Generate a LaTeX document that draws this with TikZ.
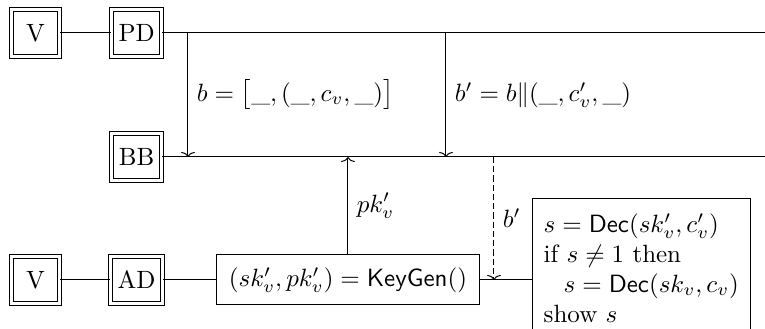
\documentclass[tikz,border=0pt]{standalone}
\usepackage{amsmath}
\usetikzlibrary{arrows.meta}
\begin{document}
\begin{tikzpicture}[>={To[length=2pt, width=5.5pt]}]
		\tikzstyle{party}=[draw, double, double distance=1.2pt, minimum size=19pt, inner sep=2.8pt]
		\tikzstyle{proc}=[draw, inner sep=5pt]
		\tikzstyle{lbl}=[midway, right]
		
		\useasboundingbox (0,0) rectangle (10.755,-4.625);
		
		\node[party] (v1) at (0.50,-0.464) {V};
		\node[party] (pd) at (1.92,-0.464) {PD};
		\node[party] (bb) at (1.92,-2.207) {BB};
		\node[party] (v2) at (0.50,-3.936) {V};
		\node[party] (ad) at (1.92,-3.936) {AD};
		\node[proc] (kg) at (4.892,-3.936) {$(sk'_v, pk'_v) = \mathsf{KeyGen}()$};
		\node[proc, anchor=north west, align=left, inner xsep=4.5pt, inner ysep=6pt] (dec) at (7.479,-2.783)
		{$s = \mathsf{Dec}(sk'_v, c'_v)$\\
		 if $s \neq 1$ then\\
		 \hspace*{0.8em}$s = \mathsf{Dec}(sk_v, c_v)$\\
		 show $s$};
		
		\coordinate (pdend) at (10.755,-0.464);
		\coordinate (bbend) at (10.755,-2.207);
		\coordinate (b1) at (2.643,-0.464);
		\coordinate (b2) at (6.270,-0.464);
		\coordinate (b3) at (6.945,-2.207);
		
		\draw (v1) -- (pd);
		\draw (pd) -- (pdend);
		\draw (bb) -- (bbend);
		\draw (v2) -- (ad);
		\draw (ad) -- (kg);
		\draw (kg.east) -- (kg.east -| dec.west);
		
		\draw[->] (b1) -- (b1 |- bb.east) node[lbl]{$b = \bigl[\_, (\_, c_v, \_)\bigr]$};
		\draw[->] (b2) -- (b2 |- bb.east) node[lbl]{$b' = b \| (\_, c'_v, \_)$};
		\draw[->] (kg.north) -- (kg.north |- bb.east) node[lbl]{$pk'_v$};
		\draw[->, dash pattern=on 2.5pt off 1.2pt] (b3) -- (b3 |- kg.east) node[lbl]{$b'$};
		
	\end{tikzpicture}
\end{document}
